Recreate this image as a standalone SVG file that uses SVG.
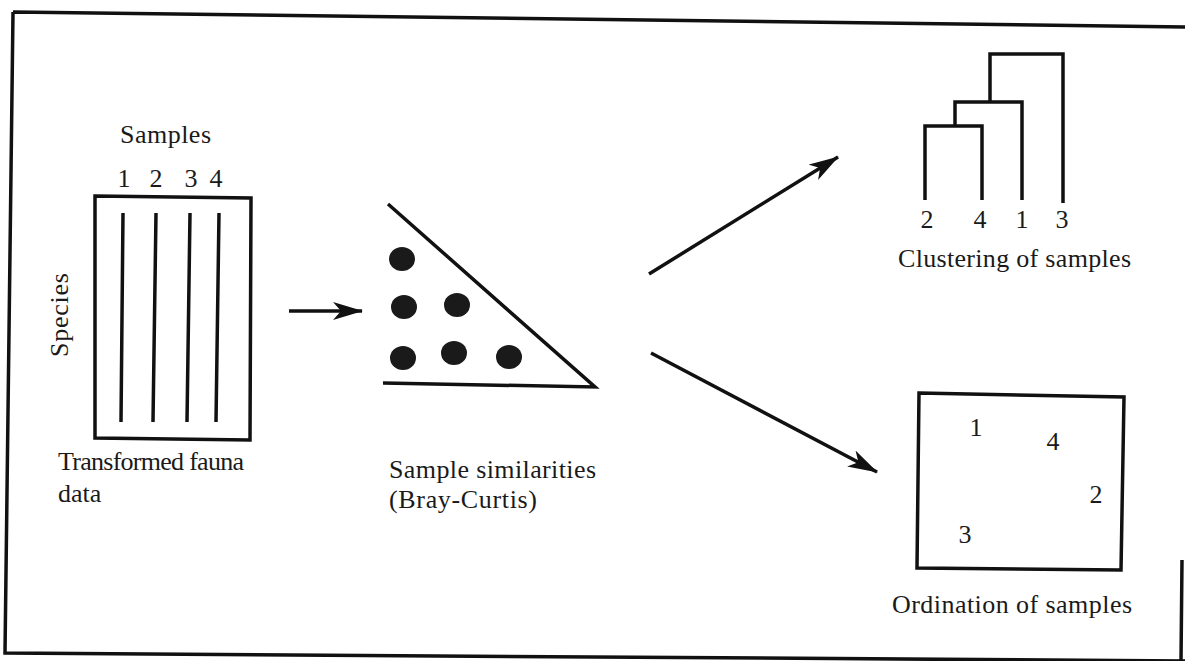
<svg xmlns="http://www.w3.org/2000/svg" width="1185" height="661" viewBox="0 0 1185 661">
<defs>
<style>
text{font-size:26px;fill:#1a1a1a}
.ln{stroke:#111;stroke-width:3.5;fill:none;stroke-linecap:butt}
.dot{fill:#1a1a1a}
.num{text-anchor:middle}
</style>
<marker id="ahb" markerWidth="30" markerHeight="18" refX="29" refY="9" orient="auto" markerUnits="userSpaceOnUse" viewBox="0 0 30 18">
<path d="M0,0 L30,9 L0,18 L8,9 Z" fill="#111"/>
</marker>
</defs>
<rect x="0" y="0" width="1185" height="661" fill="#fff"/>
<g id="frame">
<path class="ln" stroke-width="4" d="M13,12 L1190,27 M13,12 L5,653 L1190,661 M1182,560 L1181,661"/>
</g>
<g id="fauna-data" font-family="DejaVu Serif, serif">
<path class="ln" d="M95,196 L251,198 L250,440 L95,438 Z"/>
<path class="ln" d="M123,213 L121,422 M156,213 L153,422 M190,213 L187,422 M219,213 L216,422"/>
<text x="120" y="143" textLength="91" font-family="Liberation Serif">Samples</text>
<text class="num" x="124" y="187" font-size="23" font-family="Liberation Serif">1</text>
<text class="num" x="156" y="187" font-size="23" font-family="Liberation Serif">2</text>
<text class="num" x="191" y="187" font-size="23" font-family="Liberation Serif">3</text>
<text class="num" x="216" y="187" font-size="23" font-family="Liberation Serif">4</text>
<text transform="translate(68,357) rotate(-90)" textLength="84" font-family="Liberation Serif">Species</text>
<text x="58" y="470" textLength="186" font-family="Liberation Serif">Transformed fauna</text>
<text x="58" y="502" font-family="Liberation Serif">data</text>
</g>
<g id="similarities">
<path class="ln" d="M388,204 L595,387 L383,383"/>
<ellipse class="dot" cx="402" cy="259" rx="13" ry="12"/>
<ellipse class="dot" cx="404" cy="307" rx="13" ry="12"/>
<ellipse class="dot" cx="457" cy="305" rx="13" ry="12"/>
<ellipse class="dot" cx="403" cy="358" rx="13" ry="12"/>
<ellipse class="dot" cx="454" cy="353" rx="13" ry="12"/>
<ellipse class="dot" cx="509" cy="357" rx="13" ry="12"/>
<text x="389" y="478" textLength="207" font-family="Liberation Serif">Sample similarities</text>
<text x="389" y="508" textLength="148" font-family="Liberation Serif">(Bray-Curtis)</text>
</g>
<g id="clustering">
<path class="ln" d="M925,200 L925,126 L982,126 L982,200 M955,126 L955,102 L1022,102 L1022,200 M990,102 L990,54 L1063,54 L1063,203"/>
<text class="num" x="927" y="228" font-family="Liberation Serif">2</text>
<text class="num" x="980" y="228" font-family="Liberation Serif">4</text>
<text class="num" x="1022" y="228" font-family="Liberation Serif">1</text>
<text class="num" x="1062" y="228" font-family="Liberation Serif">3</text>
<text x="898" y="267" textLength="233" font-family="Liberation Serif">Clustering of samples</text>
</g>
<g id="ordination">
<path class="ln" d="M919,393 L1124,397 L1121,570 L917,568 Z"/>
<text class="num" x="976" y="436" font-family="Liberation Serif">1</text>
<text class="num" x="1053" y="450" font-family="Liberation Serif">4</text>
<text class="num" x="1096" y="503" font-family="Liberation Serif">2</text>
<text class="num" x="965" y="543" font-family="Liberation Serif">3</text>
<text x="892" y="613" textLength="240" font-family="Liberation Serif">Ordination of samples</text>
</g>
<g id="connectors">
<line class="ln" x1="289" y1="311" x2="362" y2="311" stroke-width="3" marker-end="url(#ahb)"/>
<line class="ln" x1="649" y1="274" x2="838" y2="157" marker-end="url(#ahb)"/>
<line class="ln" x1="651" y1="353" x2="877" y2="472" marker-end="url(#ahb)"/>
</g>
</svg>
